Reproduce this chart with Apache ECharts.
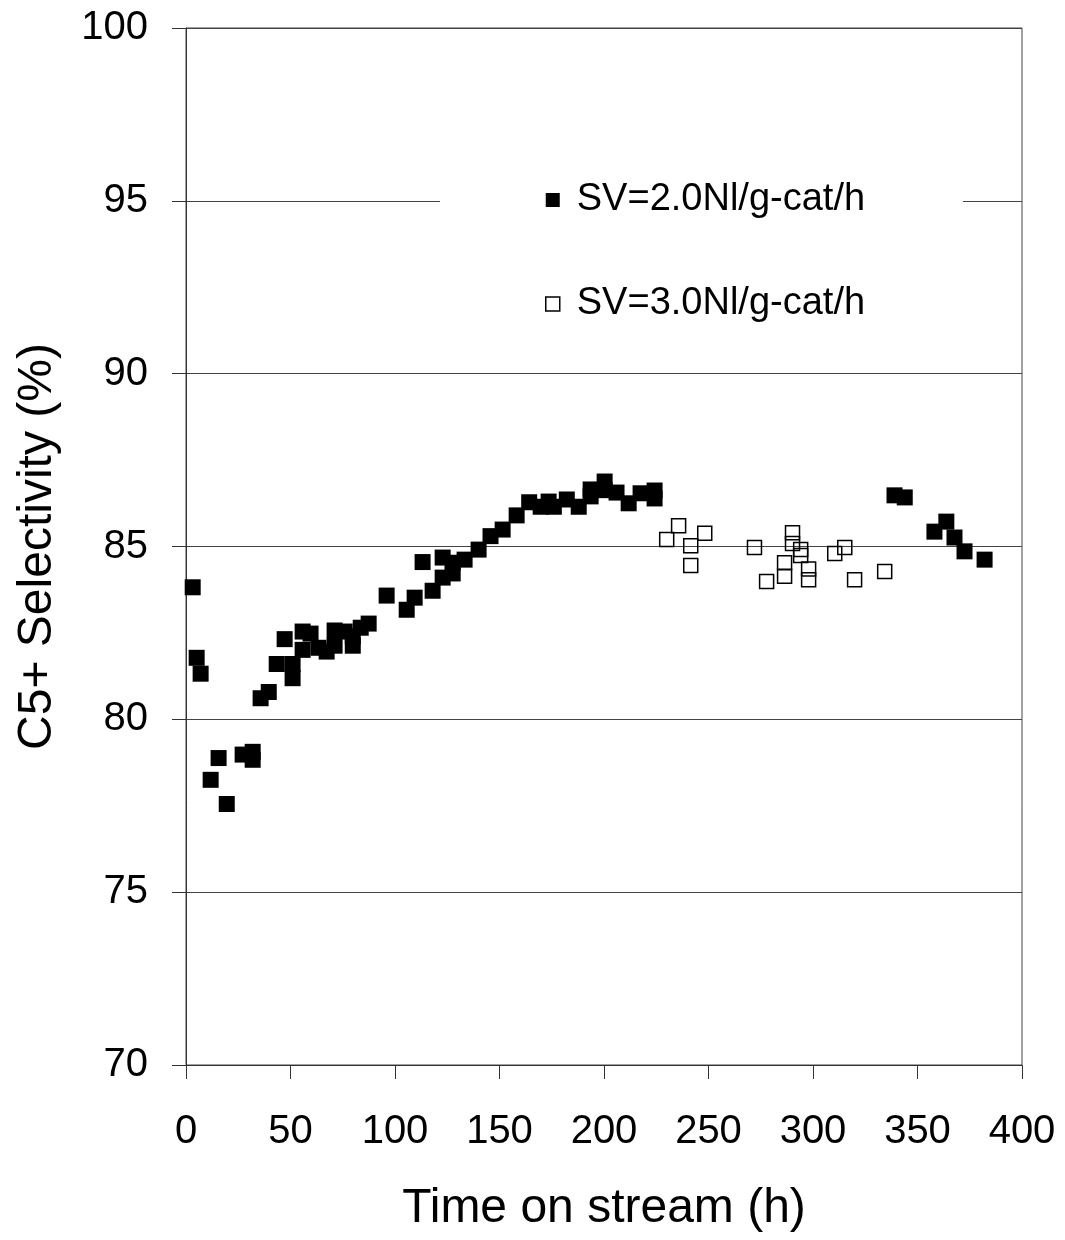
<!DOCTYPE html>
<html>
<head>
<meta charset="utf-8">
<script src="https://cdn.jsdelivr.net/npm/echarts@6/dist/echarts.min.js"></script>
<style>
  html, body { margin: 0; padding: 0; background: #fff; }
  #chart { width: 1065px; height: 1240px; }
</style>
</head>
<body>
<div id="chart"></div>
<script>
// SV=2.0 Nl/g-cat/h (filled squares)
const timeSV20 = [3.2, 5.1, 7.0, 11.8, 15.6, 19.5, 27.1, 31.9, 31.9, 35.7, 39.6, 43.4, 47.2, 51, 51,
    55.8, 55.8, 59.6, 63.4, 67.3, 71.1, 71.1, 75.9, 79.8, 79.8, 83.6, 87.4, 96, 105.6, 109.4,
    113.2, 118, 122.8, 122.8, 127.6, 127.6, 133.3, 140, 145.7, 151.5, 158.2, 164.2, 169.7, 173.5, 176,
    182.2, 187.9, 193.6, 193.6, 200.3, 200.3, 206, 211.8, 217.5, 224.2, 224.2,
    339, 343.9, 358.1, 363.8, 367.7, 372.5, 382.1];
const selSV20 = [83.82, 81.78, 81.32, 78.25, 78.88, 77.55, 78.98, 79.06, 78.83, 80.61, 80.79, 81.6, 82.32, 81.6, 81.19,
    82.54, 82.01, 82.48, 82.07, 81.96, 82.57, 82.13, 82.54, 82.13, 82.4, 82.65, 82.77, 83.58, 83.17, 83.52,
    84.55, 83.72, 84.68, 84.1, 84.53, 84.22, 84.62, 84.91, 85.3, 85.49, 85.9, 86.28, 86.15, 86.3, 86.15,
    86.36, 86.15, 86.65, 86.45, 86.88, 86.63, 86.56, 86.25, 86.54, 86.62, 86.39,
    86.48, 86.42, 85.43, 85.72, 85.26, 84.86, 84.62];

// SV=3.0 Nl/g-cat/h (open squares)
const timeSV30 = [230, 235.7, 241.5, 241.5, 248.2, 272, 277.8, 286.4, 286.4, 290.2, 290.2, 294.1, 294.1,
    297.9, 297.9, 310.4, 315.2, 319.9, 334.3];
const selSV30 = [85.2, 85.6, 85.02, 84.45, 85.38, 84.97, 83.99, 84.53, 84.14, 85.4, 85.09, 84.91, 84.74,
    84.35, 84.04, 84.8, 84.97, 84.04, 84.28];

const seriesNames = ['SV=2.0Nl/g-cat/h', 'SV=3.0Nl/g-cat/h'];

const zip = (xs, ys) => xs.map((x, i) => [x, ys[i]]);
const FONT = "'Liberation Sans', Arial, sans-serif";

const chart = echarts.init(document.getElementById('chart'), null, {renderer: 'canvas'});

chart.setOption({
    backgroundColor: '#fff',
    animation: false,
    textStyle: {fontFamily: FONT, color: '#000'},
    grid: {
        left: 186,
        right: 43,
        top: 28,
        bottom: 175,
        show: true,
        borderColor: '#444',
        borderWidth: 1
    },
    legend: {
        orient: 'vertical',
        left: 440,
        top: 151,
        padding: [30, 98, 30, 105],
        itemGap: 66,
        itemWidth: 14,
        itemHeight: 14,
        backgroundColor: '#fff',
        z: 10,
        textStyle: {fontSize: 38, fontFamily: FONT, color: '#000', padding: [0, 0, 0, 12]},
        data: [
            {name: seriesNames[0], icon: 'rect', itemStyle: {color: '#000', opacity: 1}},
            {name: seriesNames[1], icon: 'rect', itemStyle: {color: '#fff', borderColor: '#000', borderWidth: 1.5}}
        ]
    },
    xAxis: {
        type: 'value',
        min: 0,
        max: 400,
        interval: 50,
        name: 'Time on stream (h)',
        nameLocation: 'middle',
        nameGap: 120,
        nameTextStyle: {fontSize: 48, fontFamily: FONT, color: '#000'},
        axisLine: {show: true, lineStyle: {color: '#333', width: 1}},
        axisTick: {show: true, inside: false, length: 14, lineStyle: {color: '#333'}},
        axisLabel: {fontSize: 40, margin: 47, color: '#000', fontFamily: FONT},
        splitLine: {show: false}
    },
    yAxis: {
        type: 'value',
        min: 70,
        max: 100,
        interval: 5,
        name: 'C5+ Selectivity (%)',
        nameLocation: 'middle',
        nameGap: 124,
        nameRotate: 90,
        nameTextStyle: {fontSize: 48, fontFamily: FONT, color: '#000'},
        axisLine: {show: true, lineStyle: {color: '#333', width: 1}},
        axisTick: {show: true, inside: false, length: 14, lineStyle: {color: '#333'}},
        axisLabel: {fontSize: 40, margin: 38, color: '#000', fontFamily: FONT},
        splitLine: {show: true, lineStyle: {color: '#444', width: 1}}
    },
    series: [
        {
            name: seriesNames[0],
            type: 'scatter',
            symbol: 'rect',
            symbolSize: 16,
            itemStyle: {color: '#000', opacity: 1},
            data: zip(timeSV20, selSV20)
        },
        {
            name: seriesNames[1],
            type: 'scatter',
            symbol: 'rect',
            symbolSize: 14,
            itemStyle: {color: 'rgba(255,255,255,0)', borderColor: '#000', borderWidth: 1.5, opacity: 1},
            data: zip(timeSV30, selSV30)
        }
    ]
});
</script>
</body>
</html>
